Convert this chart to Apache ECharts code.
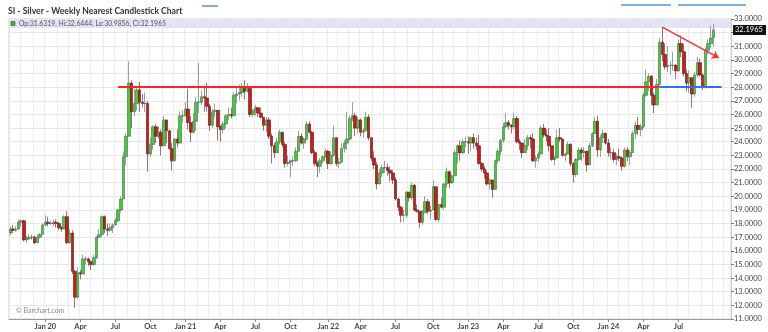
<!DOCTYPE html>
<html><head><meta charset="utf-8">
<script src="https://cdn.jsdelivr.net/npm/echarts@6/dist/echarts.min.js"></script>
<style>html,body{margin:0;padding:0;background:#fff}#c{width:768px;height:332px}</style>
</head><body><div id="c"></div>
<script>
// ---- DATA (weekly bars, Friday dated) : [open, close, low, high]
const firstWeek = '2019-10-04';
const axisWeeks = 268; // data weeks + empty space on the right
const w2019 = [
 [17.3,17.6,17.1,17.8],[17.6,17.5,17.3,17.9],[17.5,17.6,17.4,17.8],[17.6,18.1,17.5,18.3],
 [18.1,18.2,17.8,18.3],[18.2,16.8,16.7,18.3],[16.8,16.9,16.6,17.1],[16.9,17.0,16.8,17.2],
 [17.0,17.0,16.8,17.2],[17.0,16.6,16.5,17.1],[16.6,17.0,16.6,17.2],[17.0,17.2,16.9,17.3],
 [17.2,17.9,17.2,18.0]
];
const w2020 = [
 [17.9,18.1,17.8,18.6],[18.1,18.0,17.8,18.5],[18.0,18.0,17.9,18.2],[18.0,18.1,17.8,18.3],
 [18.1,18.0,17.7,18.3],[18.0,17.7,17.5,18.1],[17.7,17.6,17.4,17.8],[17.6,18.5,17.6,18.6],
 [18.5,16.6,16.5,18.9],[16.6,17.3,16.5,17.6],[17.3,14.5,14.3,17.5],[14.5,12.6,11.8,14.6],
 [12.6,14.4,12.5,14.8],[14.4,14.3,13.9,14.6],[14.3,15.4,14.3,15.7],[15.4,15.4,15.0,15.6],
 [15.4,15.2,14.9,15.5],[15.2,15.0,14.6,15.3],[15.0,15.5,14.9,15.7],[15.5,17.0,15.4,17.1],
 [17.0,17.2,16.9,17.6],[17.2,18.5,17.0,18.6],[18.5,17.6,17.3,18.6],[17.6,17.5,17.1,18.0],
 [17.5,17.7,17.4,18.0],[17.7,17.9,17.3,18.0],[17.9,18.2,17.9,18.4],[18.2,19.0,18.1,19.1],
 [19.0,19.8,18.8,20.0],[19.8,22.9,19.8,23.3],[22.9,24.4,22.3,24.6],[24.4,28.3,24.4,29.9],
 [28.3,26.2,25.0,28.5],[26.2,26.8,25.9,27.9],[26.8,27.8,26.3,28.1],[27.8,26.9,26.2,28.4],
 [26.9,26.8,26.5,27.5],[26.8,26.8,26.2,27.6],[26.8,23.1,21.8,27.0],[23.1,23.8,22.9,24.3],
 [23.8,25.1,23.4,25.2],[25.1,24.4,23.9,25.3],[24.4,24.7,24.2,25.1],[24.7,23.7,23.0,24.9],
 [23.7,25.6,23.7,25.9],[25.6,24.8,23.9,25.6],[24.8,23.5,23.4,24.9],[23.5,22.6,21.9,23.9],
 [22.6,24.2,22.6,24.3],[24.2,23.9,23.6,24.9],[23.9,25.9,23.9,26.2],[25.9,25.9,25.4,26.3]
];
const w2021 = [
 [25.9,26.4,25.9,26.9],[26.4,25.4,24.9,27.9],[25.4,24.7,24.0,25.9],[24.7,25.5,24.6,26.1],
 [25.5,26.9,24.8,27.3],[26.9,26.9,26.1,29.8],[26.9,27.3,26.7,27.8],[27.3,27.2,26.2,28.1],
 [27.2,26.6,26.2,28.3],[26.6,25.2,24.8,26.8],[25.2,26.2,25.0,26.4],[26.2,26.3,25.8,26.8],
 [26.3,25.1,24.1,26.3],[25.1,24.9,24.0,25.2],[24.9,25.3,24.6,25.5],[25.3,25.9,25.0,26.0],
 [25.9,26.0,25.6,26.5],[26.0,25.9,25.7,26.5],[25.9,27.4,25.9,27.6],[27.4,27.5,26.8,28.1],
 [27.5,27.6,27.0,28.2],[27.6,28.0,27.3,28.3],[28.0,27.7,27.1,28.5],[27.7,27.9,27.6,28.3],
 [27.9,26.0,25.8,28.0],[26.0,26.3,25.8,26.4],[26.3,26.5,25.9,26.7],[26.5,26.1,25.8,26.5],
 [26.1,25.8,25.7,26.5],[25.8,25.2,24.8,25.8],[25.2,25.6,24.7,25.8],[25.6,24.4,24.2,25.8],
 [24.4,23.7,22.4,24.6],[23.7,23.2,22.8,23.9],[23.2,24.0,23.2,24.3],[24.0,24.7,23.8,24.9],
 [24.7,23.8,23.6,24.7],[23.8,22.4,22.1,24.0],[22.4,22.5,22.2,23.0],[22.5,22.6,21.4,22.7],
 [22.6,22.6,22.2,22.9],[22.6,23.3,22.5,23.6],[23.3,24.4,23.3,24.8],[24.4,23.9,23.8,24.6],
 [23.9,24.2,23.5,24.3],[24.2,25.3,24.1,25.5],[25.3,24.7,24.6,25.5],[24.7,23.2,23.1,24.8],
 [23.2,22.4,22.2,23.4],[22.4,22.2,21.4,22.6],[22.2,22.6,21.7,22.8],[22.6,22.9,22.4,23.0],
 [22.9,23.3,22.8,23.5]
];
const w2022 = [
 [23.3,22.4,22.0,23.4],[22.4,23.0,22.3,23.3],[23.0,24.3,22.9,25.2],[24.3,22.4,22.2,24.3],
 [22.4,22.5,22.1,22.8],[22.5,23.5,22.5,23.9],[23.5,23.9,23.2,24.1],[23.9,24.2,23.4,26.2],
 [24.2,25.7,24.1,25.9],[25.7,25.9,25.5,26.9],[25.9,25.0,24.4,26.1],[25.0,25.6,24.6,25.8],
 [25.6,24.7,24.4,25.7],[24.7,24.8,24.3,25.0],[24.8,25.8,24.8,26.2],[25.8,24.3,24.1,26.0],
 [24.3,22.8,22.6,24.3],[22.8,22.3,22.0,23.3],[22.3,20.9,20.5,22.5],[20.9,21.7,20.9,22.0],
 [21.7,22.1,21.4,22.3],[22.1,22.1,21.7,22.6],[22.1,21.9,21.5,22.4],[21.9,21.7,21.1,22.2],
 [21.7,21.2,20.9,21.9],[21.2,19.8,19.7,21.4],[19.8,19.2,18.9,19.9],[19.2,18.6,18.1,19.3],
 [18.6,18.6,18.1,19.0],[18.6,20.3,18.4,20.4],[20.3,19.9,19.6,20.3],[19.9,20.8,19.7,21.0],
 [20.8,19.0,18.9,20.9],[19.0,18.9,18.8,19.4],[18.9,18.1,17.7,18.9],[18.1,18.8,17.9,19.0],
 [18.8,19.6,18.8,20.0],[19.6,18.9,18.7,19.8],[18.9,19.0,18.3,19.3],[19.0,20.7,19.0,21.2],
 [20.7,18.3,18.2,20.7],[18.3,19.4,18.1,19.4],[19.4,19.2,19.1,19.9],[19.2,20.9,19.0,21.0],
 [20.9,21.8,20.6,22.1],[21.8,21.0,20.6,21.9],[21.0,21.5,20.9,21.6],[21.5,23.2,21.5,23.4],
 [23.2,23.7,22.4,23.8],[23.7,23.2,22.6,24.1],[23.2,24.0,23.1,24.2],[24.0,24.0,23.6,24.4]
];
const w2023 = [
 [24.0,23.9,23.1,24.4],[23.9,24.3,23.3,24.4],[24.3,23.9,23.5,24.6],[23.9,23.7,23.4,24.3],
 [23.7,22.4,22.3,24.5],[22.4,22.0,21.8,22.5],[22.0,21.7,21.3,22.2],[21.7,20.9,20.8,21.9],
 [20.9,21.2,20.5,21.3],[21.2,20.5,19.9,21.2],[20.5,22.6,20.5,22.7],[22.6,23.3,22.4,23.5],
 [23.3,24.1,23.0,24.2],[24.1,25.1,23.9,25.4],[25.1,25.4,25.0,26.1],[25.4,25.2,24.9,25.6],
 [25.2,25.1,24.6,25.3],[25.1,25.7,24.9,26.1],[25.7,24.0,23.9,25.9],[24.0,23.9,23.4,24.2],
 [23.9,23.2,22.8,23.9],[23.2,23.7,23.2,24.2],[23.7,24.3,23.4,24.5],[24.3,24.2,23.5,24.5],
 [24.2,22.6,22.5,24.6],[22.6,22.8,22.1,23.0],[22.8,23.1,22.5,23.3],[23.1,25.0,23.1,25.2],
 [25.0,24.5,24.3,25.3],[24.5,24.4,24.0,24.9],[24.4,23.7,23.3,25.0],[23.7,22.7,22.6,23.7],
 [22.7,22.8,22.3,23.0],[22.8,24.3,22.8,24.9],[24.3,24.2,24.0,25.0],[24.2,23.0,22.9,24.2],
 [23.0,23.1,22.6,23.2],[23.1,23.8,23.1,24.0],[23.8,22.4,22.2,23.9],[22.4,21.6,21.0,22.5],
 [21.6,22.7,21.4,22.8],[22.7,23.4,22.6,23.6],[23.4,23.2,22.6,23.6],[23.2,23.3,22.8,23.6],
 [23.3,22.3,21.8,23.3],[22.3,23.7,22.3,23.9],[23.7,24.6,23.6,24.7],[24.6,25.5,24.6,25.8],
 [25.5,23.4,22.9,25.9],[23.4,24.3,22.9,24.5],[24.3,24.6,23.9,24.9],[24.6,23.9,23.8,24.7]
];
const w2024 = [
 [23.9,23.2,22.9,24.2],[23.2,23.2,22.7,23.6],[23.2,22.7,22.5,23.5],[22.7,22.9,22.3,23.1],
 [22.9,22.8,22.6,23.5],[22.8,22.2,21.9,22.9],[22.2,23.4,22.1,23.6],[23.4,22.9,22.6,23.6],
 [22.9,23.2,22.3,23.4],[23.2,24.6,23.2,24.8],[24.6,25.2,24.2,25.5],[25.2,24.9,24.5,25.8],
 [24.9,25.1,24.4,25.3],[25.1,27.4,25.0,27.6],[27.4,28.4,27.3,29.3],[28.4,28.8,27.7,29.0],
 [28.8,27.4,26.7,28.9],[27.4,26.7,26.1,27.6],[26.7,28.2,26.7,28.6],[28.2,31.3,28.1,31.6],
 [31.3,30.4,29.9,32.4],[30.4,29.5,29.3,31.2],[29.5,29.6,29.1,31.0],[29.6,29.6,28.9,29.9],
 [29.6,29.6,29.2,30.6],[29.6,29.2,28.6,29.7],[29.2,31.2,29.1,31.5],[31.2,30.6,30.2,31.8],
 [30.6,29.0,28.8,31.2],[29.0,28.3,27.7,29.3],[28.3,28.7,27.6,29.2],[28.7,27.5,26.5,28.7],
 [27.5,28.9,27.3,29.1],[28.9,29.8,28.7,30.2],[29.8,28.9,28.8,30.1],[28.9,28.0,27.8,29.0],
 [28.0,30.7,27.9,30.9],[30.7,31.2,30.4,31.5],[31.2,31.6,30.9,32.5],[31.6319,32.1965,30.9856,32.6444]
];
const yMin = 11, yMax = 33, yStep = 1;
const resistanceLevel = 28.0;          // red horizontal line
const supportLevel = 28.0;             // blue horizontal line
const resistanceWeeks = [40, 241];     // week index span
const supportWeeks = [241, 264];
const trendStart = [242, 32.4], trendEnd = [263, 30.15];
const titleText = 'SI - Silver - Weekly Nearest Candlestick Chart';
const monthNames = ['Jan','Feb','Mar','Apr','May','Jun','Jul','Aug','Sep','Oct','Nov','Dec'];

// ---- build
const bars = [].concat(w2019, w2020, w2021, w2022, w2023, w2024);
const dates = [];
const t0 = new Date(firstWeek + 'T00:00:00Z').getTime();
for (let i = 0; i < axisWeeks; i++) dates.push(new Date(t0 + i * 7 * 86400000));
const categories = dates.map(d => d.toISOString().slice(0, 10));
const monthStart = dates.map((d, i) => i > 0 && d.getUTCMonth() !== dates[i - 1].getUTCMonth());
const quarterStart = dates.map((d, i) => monthStart[i] && d.getUTCMonth() % 3 === 0 && i < bars.length - 4);
const last = bars[bars.length - 1];
const legendText = 'Op:' + last[0].toFixed(4) + ', Hi:' + last[3].toFixed(4) + ', Lo:' + last[2].toFixed(4) + ', Cl:' + last[1].toFixed(4);

const chart = echarts.init(document.getElementById('c'), null, {renderer: 'canvas'});
const FONT = 'Lato, "Open Sans", sans-serif';
const baseGraphics = [
  {type: 'rect', z: -10, silent: true, shape: {x: 9, y: 19, width: 722, height: 9}, style: {fill: '#e4e2f8'}},
  {type: 'rect', z: 10, shape: {x: 11, y: 21.5, width: 4, height: 4}, style: {fill: '#22cc22', stroke: '#333', lineWidth: 0.5}},
  {type: 'text', z: 10, left: 19, top: 20.5, style: {text: legendText, fontSize: 6.8, fill: '#555', fontFamily: FONT}},
  {type: 'text', z: 10, left: 8, top: 7, style: {text: titleText, fontSize: 8.6, fontWeight: 'bold', fill: '#333', fontFamily: FONT}},
  {type: 'text', z: 10, left: 16, top: 307, style: {text: '\u00a9 Barchart.com', fontSize: 7, fill: '#8a8a8a', fontFamily: FONT}},
  {type: 'line', shape: {x1: 202, y1: 6, x2: 218, y2: 6}, style: {stroke: '#5b93d8', lineWidth: 1.5}},
  {type: 'line', shape: {x1: 621, y1: 5, x2: 671, y2: 5}, style: {stroke: '#5b93d8', lineWidth: 1.5}},
  {type: 'line', shape: {x1: 678, y1: 5, x2: 746, y2: 5}, style: {stroke: '#5b93d8', lineWidth: 1.5}}
];
chart.setOption({
  animation: false,
  backgroundColor: '#fff',
  grid: {left: 9, right: 37, top: 19, bottom: 13, show: true, borderColor: '#d0d0d0', borderWidth: 1},
  xAxis: {
    type: 'category', data: categories, boundaryGap: true,
    axisLine: {show: true, lineStyle: {color: '#9a9a9a'}},
    axisTick: {show: true, alignWithLabel: true, interval: (i) => quarterStart[i], length: 3, lineStyle: {color: '#888'}},
    axisLabel: {
      interval: (i) => quarterStart[i], margin: 4, fontSize: 7.5, fontWeight: 'bold', color: '#444', fontFamily: FONT,
      formatter: (v) => { const d = new Date(v + 'T00:00:00Z'); const m = d.getUTCMonth(); return m === 0 ? 'Jan ' + String(d.getUTCFullYear()).slice(2) : monthNames[m]; }
    },
    splitLine: {show: true, interval: (i) => monthStart[i], lineStyle: {color: '#ececec', width: 1}}
  },
  yAxis: {
    type: 'value', position: 'right', min: yMin, max: yMax, interval: yStep, scale: true,
    axisLine: {show: true, lineStyle: {color: '#d0d0d0'}},
    axisTick: {show: true, length: 3, lineStyle: {color: '#777'}},
    axisLabel: {margin: 3, fontSize: 7.5, color: '#444', fontFamily: FONT,
      formatter: (v) => Math.abs(v - last[1]) < 0.6 ? '' : v.toFixed(4)},
    splitLine: {show: true, lineStyle: {color: '#e6e6e6'}}
  },
  graphic: baseGraphics,
  series: [{
    type: 'candlestick',
    data: bars,
    barWidth: 3,
    itemStyle: {color: '#2ed62e', color0: '#dc1414', borderColor: '#5e5e5e', borderColor0: '#4a1a1a', borderWidth: 0.6},
    markLine: {
      silent: true, symbol: 'none', animation: false,
      data: [
        [{coord: [categories[resistanceWeeks[0]], resistanceLevel], lineStyle: {color: '#ff2424', width: 2, type: 'solid'}, label: {show: false}},
         {coord: [categories[resistanceWeeks[1]], resistanceLevel]}],
        [{coord: [categories[supportWeeks[0]], supportLevel], lineStyle: {color: '#2f6ff0', width: 2, type: 'solid'}, label: {show: false}},
         {coord: [categories[supportWeeks[1]], supportLevel]}],
        [{coord: [categories[trendStart[0]], trendStart[1]], symbol: 'none', lineStyle: {color: '#ff3030', width: 1.5, type: 'solid'}, label: {show: false}},
         {coord: [categories[trendEnd[0]], trendEnd[1]], symbol: 'arrow', symbolSize: 7}]
      ]
    }
  }]
});
// last-price tag on the right axis, positioned through the y scale
const lastY = chart.convertToPixel({yAxisIndex: 0}, last[1]);
chart.setOption({graphic: baseGraphics.concat([
  {type: 'rect', z: 20, shape: {x: 733, y: lastY - 5, width: 33, height: 10}, style: {fill: '#111'}},
  {type: 'text', z: 21, x: 735, y: lastY, style: {text: last[1].toFixed(4), fontSize: 7.5, fill: '#fff', fontFamily: FONT, textVerticalAlign: 'middle', verticalAlign: 'middle'}}
])});
</script></body></html>
